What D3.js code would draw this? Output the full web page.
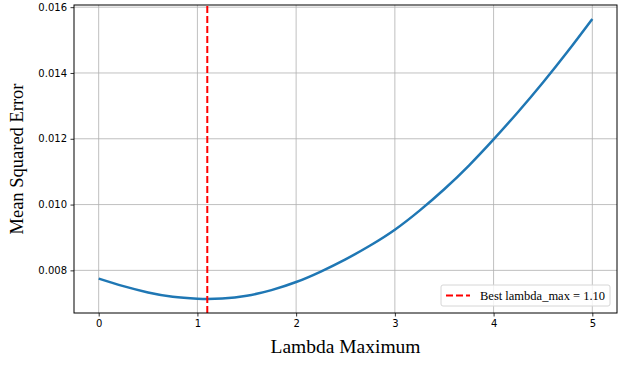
<!DOCTYPE html>
<html>
<head>
<meta charset="utf-8">
<script src="https://cdn.jsdelivr.net/npm/d3@7"></script>
<style>
  body { margin: 0; background: #fff; }
  svg { display: block; }
</style>
</head>
<body>
<div class="Canvas"></div>
<script>
// values
const lambdaMax = [0, 0.25, 0.5, 0.75, 1.0, 1.1, 1.25, 1.5, 1.75, 2.0, 2.25, 2.5, 2.75, 3.0,
  3.25, 3.5, 3.75, 4.0, 4.25, 4.5, 4.75, 5.0];
const mse = [0.00775, 0.00752, 0.00733, 0.00720, 0.00714, 0.00713, 0.007145, 0.00723, 0.00740, 0.007645,
  0.007965, 0.008335, 0.008755, 0.009235, 0.009815, 0.010465, 0.011185, 0.01198,
  0.01282, 0.01371, 0.01465, 0.01564];
const bestLambda = 1.10;
const xTicks = [0, 1, 2, 3, 4, 5];
const yTicks = [0.008, 0.010, 0.012, 0.014, 0.016];

const width = 627;
const height = 366;
const margin = { left: 74, right: 10, top: 5, bottom: 53 };

const svg = d3.select('.Canvas').append('svg').attr('width', width).attr('height', height);

const x = d3.scaleLinear().domain([-0.25, 5.25]).range([margin.left, width - margin.right]);
const y = d3.scaleLinear().domain([0.006704, 0.016066]).range([height - margin.bottom, margin.top]);

// grid
const grid = svg.append('g');
grid.selectAll('line.vx')
  .data(xTicks)
  .enter()
  .append('line')
  .attr('x1', (d) => x(d)).attr('x2', (d) => x(d))
  .attr('y1', y.range()[0]).attr('y2', y.range()[1])
  .attr('stroke', '#b0b0b0').attr('stroke-width', 0.8);
grid.selectAll('line.hy')
  .data(yTicks)
  .enter()
  .append('line')
  .attr('x1', x.range()[0]).attr('x2', x.range()[1])
  .attr('y1', (d) => y(d)).attr('y2', (d) => y(d))
  .attr('stroke', '#b0b0b0').attr('stroke-width', 0.8);

// curve
const line = d3.line()
  .x((d, i) => x(lambdaMax[i]))
  .y((d) => y(d))
  .curve(d3.curveNatural);
svg.append('path')
  .datum(mse)
  .attr('d', line)
  .attr('fill', 'none')
  .attr('stroke', '#1f77b4')
  .attr('stroke-width', 2.5);

// best lambda marker
svg.append('line')
  .attr('x1', x(bestLambda)).attr('x2', x(bestLambda))
  .attr('y1', y.range()[0]).attr('y2', y.range()[1])
  .attr('stroke', '#ff0000').attr('stroke-width', 2)
  .attr('stroke-dasharray', '7,3');

// axes
const xAxis = svg.append('g')
  .attr('transform', `translate(0,${y.range()[0]})`)
  .call(d3.axisBottom(x).tickValues(xTicks).tickSize(3.5).tickPadding(3.5).tickFormat(d3.format('d')));
const yAxis = svg.append('g')
  .attr('transform', `translate(${x.range()[0]},0)`)
  .call(d3.axisLeft(y).tickValues(yTicks).tickSize(3.5).tickPadding(3.5).tickFormat(d3.format('.3f')));
[xAxis, yAxis].forEach((a) => {
  a.select('.domain').remove();
  a.selectAll('text').attr('font-family', 'DejaVu Sans').attr('font-size', '10px').attr('fill', '#000');
  a.selectAll('line').attr('stroke', '#000').attr('stroke-width', 0.8);
});

svg.append('rect')
  .attr('x', x.range()[0]).attr('y', y.range()[1])
  .attr('width', x.range()[1] - x.range()[0])
  .attr('height', y.range()[0] - y.range()[1])
  .attr('fill', 'none').attr('stroke', '#000').attr('stroke-width', 1);

// labels
svg.append('text')
  .attr('x', (x.range()[0] + x.range()[1]) / 2)
  .attr('y', 353)
  .attr('text-anchor', 'middle')
  .attr('font-family', 'Liberation Serif')
  .attr('font-size', '19.5px')
  .text('Lambda Maximum');
svg.append('text')
  .attr('transform', `translate(23,${(y.range()[0] + y.range()[1]) / 2}) rotate(-90)`)
  .attr('text-anchor', 'middle')
  .attr('font-family', 'Liberation Serif')
  .attr('font-size', '18.5px')
  .text('Mean Squared Error');

// legend
const legend = svg.append('g').attr('transform', 'translate(441,285)');
legend.append('rect')
  .attr('width', 169).attr('height', 21).attr('rx', 2)
  .attr('fill', '#fff').attr('fill-opacity', 0.8)
  .attr('stroke', '#d6d6d6');
legend.append('line')
  .attr('x1', 5).attr('x2', 29).attr('y1', 10.5).attr('y2', 10.5)
  .attr('stroke', '#ff0000').attr('stroke-width', 2)
  .attr('stroke-dasharray', '7,3');
legend.append('text')
  .attr('x', 39).attr('y', 14.5)
  .attr('font-family', 'Liberation Serif')
  .attr('font-size', '12.5px')
  .text(`Best lambda_max = ${bestLambda.toFixed(2)}`);
</script>
</body>
</html>
